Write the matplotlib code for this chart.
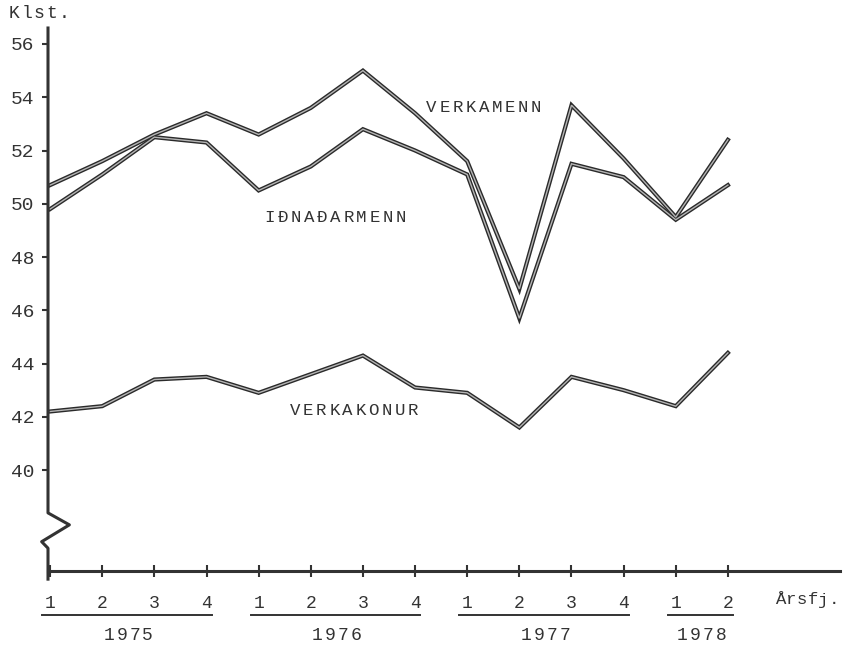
import numpy as np
import matplotlib
matplotlib.use("Agg")
import matplotlib.pyplot as plt
import matplotlib.transforms as mtransforms

plt.rcParams['font.family'] = ['Liberation Mono', 'DejaVu Sans Mono']

# quarters 1975 Q1 .. 1978 Q2
quarters = ['1', '2', '3', '4', '1', '2', '3', '4', '1', '2', '3', '4', '1', '2']
years = ['1975', '1976', '1977', '1978']
year_quarters = [4, 4, 4, 2]

verkamenn = [50.7, 51.6, 52.6, 53.4, 52.6, 53.6, 55.0, 53.4, 51.6, 46.8, 53.7, 51.7, 49.5, 52.4]
idnadarmenn = [49.8, 51.1, 52.5, 52.3, 50.5, 51.4, 52.8, 52.0, 51.1, 45.7, 51.5, 51.0, 49.4, 50.7]
verkakonur = [42.2, 42.4, 43.4, 43.5, 42.9, 43.6, 44.3, 43.1, 42.9, 41.6, 43.5, 43.0, 42.4, 44.4]

yticks = [40, 42, 44, 46, 48, 50, 52, 54, 56]

W, H = 865, 645
fig = plt.figure(figsize=(W / 100, H / 100), dpi=100)
ax = fig.add_axes([48 / W, (H - 571) / H, (840 - 48) / W, (571 - 28) / H])
ax.set_xlim(-0.04, 15.15)
ax.set_ylim(36.21, 56.6)
INK = '#333333'


def spaced(x, y, s, size, adv, transform, ha='center'):
    # typewriter style: every character on its own fixed advance (pixels)
    n = len(s)
    first = -(n - 1) * adv / 2 if ha == 'center' else adv / 2
    for i, ch in enumerate(s):
        t = mtransforms.offset_copy(transform, fig=fig, x=first + i * adv, y=0, units='dots')
        fig.text(x, y, ch, transform=t, ha='center', va='center', fontsize=size, color=INK)


x = np.arange(len(quarters))
for series in (verkamenn, idnadarmenn, verkakonur):
    ax.plot(x, series, color='#2a2a2a', lw=3.0, solid_joinstyle='miter', zorder=3)
    ax.plot(x, series, color='#b5b5b5', lw=1.0, solid_joinstyle='miter', zorder=4)

spaced(8.32, 53.62, 'VERKAMENN', 12.5, 13.1, ax.transData)
spaced(5.47, 49.49, 'IÐNAÐARMENN', 12.5, 13.1, ax.transData)
spaced(5.83, 42.25, 'VERKAKONUR', 12.5, 13.1, ax.transData)

# spines
for s in ('top', 'right', 'left'):
    ax.spines[s].set_visible(False)
ax.spines['bottom'].set_linewidth(2.2)
ax.spines['bottom'].set_color(INK)

# left axis with a break
ax.plot([0, 0, 0.027, -0.008, 0, 0],
        [1.0, 0.107, 0.085, 0.054, 0.042, -0.015],
        transform=ax.transAxes, color=INK, lw=2.2, clip_on=False, zorder=5)

ax.set_yticks(yticks)
ax.set_yticklabels([str(v) for v in yticks])
ax.tick_params(axis='y', direction='out', length=4, width=1.5, pad=6,
               labelsize=14, colors=INK)
ax.set_xticks(x)
ax.set_xticklabels(quarters)
ax.tick_params(axis='x', direction='inout', length=8, width=1.5, pad=13,
               labelsize=13, colors=INK)

# year underlines and labels
trans = mtransforms.blended_transform_factory(ax.transData, fig.transFigure)
start = 0
for yr, n in zip(years, year_quarters):
    x0, x1 = start - 0.15, start + n - 1 + 0.1
    ax.plot([x0, x1], [(H - 615) / H] * 2, transform=trans, color=INK,
            lw=1.4, clip_on=False)
    spaced((start + start + n - 1) / 2, (H - 636) / H, yr, 13, 13.0, trans)
    start += n

spaced(8 / W, (H - 14) / H, 'Klst.', 13, 12.4, fig.transFigure, ha='left')
spaced(775 / W, (H - 600) / H, 'Årsfj.', 12.5, 10.8, fig.transFigure, ha='left')

fig.savefig('out.png', dpi=100)
